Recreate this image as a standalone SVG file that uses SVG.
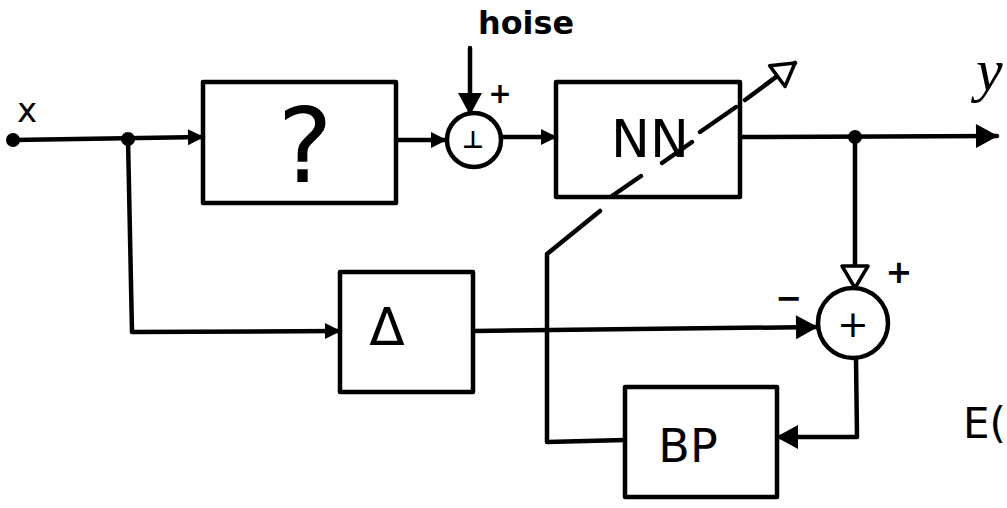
<svg xmlns="http://www.w3.org/2000/svg" width="1007" height="508" viewBox="0 0 1007 508">
  <style>
    .box { fill: none; stroke: #000; stroke-width: 4.5; stroke-linejoin: round; }
    .sum { fill: #fff; stroke: #000; stroke-width: 4.5; }
    .wire { fill: none; stroke: #000; stroke-width: 4.5; stroke-linecap: round; stroke-linejoin: round; }
    .txt { font-family: "DejaVu Sans", "Liberation Sans", sans-serif; fill: #000; }
  </style>
  <defs>
    <marker id="fill" markerUnits="userSpaceOnUse" markerWidth="18" markerHeight="18" refX="16" refY="9" orient="auto">
      <path d="M1,1 L17,9 L1,17 z" fill="#000"/>
    </marker>
    <marker id="bigfill" markerUnits="userSpaceOnUse" markerWidth="26" markerHeight="26" refX="22" refY="13" orient="auto">
      <path d="M1,1 L23,13 L1,25 z" fill="#000"/>
    </marker>
    <marker id="open" markerUnits="userSpaceOnUse" markerWidth="28" markerHeight="32" refX="24" refY="16" orient="auto">
      <path d="M2,3 L24,16 L2,29 z" fill="#fff" stroke="#000" stroke-width="3.5" stroke-linejoin="round"/>
    </marker>
  </defs>

  <rect width="1007" height="508" fill="#fff"/>

  <g id="connectors">
    <line class="wire" x1="13" y1="140" x2="203" y2="137" marker-end="url(#fill)"/>
    <circle cx="13" cy="140" r="7" fill="#000"/>
    <circle cx="128" cy="139" r="7" fill="#000"/>
    <polyline class="wire" points="128,139 132,332 340,331" marker-end="url(#fill)"/>
    <line class="wire" x1="396" y1="140" x2="446" y2="140" marker-end="url(#fill)"/>
    <line class="wire" x1="470" y1="48" x2="470" y2="114" marker-end="url(#bigfill)"/>
    <line class="wire" x1="502" y1="137" x2="556" y2="137" marker-end="url(#fill)"/>
    <line class="wire" x1="740" y1="137" x2="997" y2="136" marker-end="url(#bigfill)"/>
    <circle cx="855" cy="137" r="7" fill="#000"/>
    <line class="wire" x1="855" y1="137" x2="855" y2="288" marker-end="url(#open)"/>
    <line class="wire" x1="473" y1="331" x2="817" y2="327" marker-end="url(#bigfill)"/>
    <polyline class="wire" points="856,358 857,437 777,437" marker-end="url(#bigfill)"/>
    <polyline class="wire" points="625,440 547,442 547,254 600,211"/>
    <line class="wire" x1="612" y1="196" x2="641" y2="176"/>
    <line class="wire" x1="662" y1="163" x2="692" y2="142"/>
    <line class="wire" x1="700" y1="132" x2="736" y2="107"/>
    <line class="wire" x1="745" y1="100" x2="795" y2="63" marker-end="url(#open)"/>
  </g>

  <g id="input-x">
    <text class="txt" x="17" y="122" font-size="34">x</text>
  </g>

  <g id="unknown">
    <rect class="box" x="203" y="82" width="193" height="121"/>
    <text class="txt" x="305" y="182" font-size="104" text-anchor="middle" font-family="Liberation Sans, sans-serif">?</text>
  </g>

  <g id="noise">
    <text class="txt" x="478" y="34" font-size="32" textLength="96" lengthAdjust="spacingAndGlyphs" font-weight="bold">hoise</text>
    <text class="txt" x="500" y="103" font-size="28" text-anchor="middle" font-weight="bold">+</text>
  </g>

  <g id="sum1">
    <circle class="sum" cx="474" cy="140" r="27"/>
    <text class="txt" x="473" y="148" font-size="24" text-anchor="middle" font-weight="bold">⊥</text>
  </g>

  <g id="nn">
    <rect class="box" x="556" y="82" width="184" height="115"/>
    <text class="txt" x="650" y="157" font-size="52" text-anchor="middle">NN</text>
  </g>

  <g id="output-y">
    <text x="976" y="90" font-size="60" font-style="italic" font-family="Liberation Serif, serif">y</text>
  </g>

  <g id="delay">
    <rect class="box" x="340" y="272" width="133" height="120"/>
    <text class="txt" x="387" y="345" font-size="52" text-anchor="middle">Δ</text>
  </g>

  <g id="sum2">
    <circle class="sum" cx="853" cy="323" r="35"/>
    <text class="txt" x="853" y="337" font-size="38" text-anchor="middle">+</text>
    <text class="txt" x="899" y="283" font-size="32" text-anchor="middle" font-weight="bold">+</text>
    <text class="txt" x="789" y="309" font-size="32" text-anchor="middle" font-weight="bold">−</text>
  </g>

  <g id="bp">
    <rect class="box" x="625" y="387" width="152" height="110"/>
    <text class="txt" x="688" y="462" font-size="46" text-anchor="middle">BP</text>
  </g>

  <g id="error-label">
    <text class="txt" x="963" y="438" font-size="42">E(</text>
  </g>
</svg>
